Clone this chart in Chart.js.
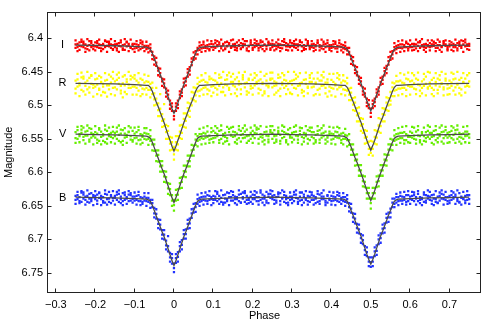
<!DOCTYPE html>
<html><head><meta charset="utf-8">
<script src="https://cdn.jsdelivr.net/npm/chart.js@4/dist/chart.umd.min.js"></script>
<style>html,body{margin:0;padding:0;background:#fff}#wrap{width:485px;height:326px}</style>
</head><body><div id="wrap"><canvas id="c" width="485" height="326"></canvas></div>
<script>
// ---- data ----
const phase = [
-0.25,-0.245,-0.24,-0.235,-0.23,-0.225,-0.22,-0.215,-0.21,-0.205,
-0.2,-0.195,-0.19,-0.185,-0.18,-0.175,-0.17,-0.165,-0.16,-0.155,
-0.15,-0.145,-0.14,-0.135,-0.13,-0.125,-0.12,-0.115,-0.11,-0.105,
-0.1,-0.095,-0.09,-0.085,-0.08,-0.075,-0.07,-0.065,-0.06,-0.055,
-0.05,-0.045,-0.04,-0.035,-0.03,-0.025,-0.02,-0.015,-0.01,-0.005,
0,0.005,0.01,0.015,0.02,0.025,0.03,0.035,0.04,0.045,
0.05,0.055,0.06,0.065,0.07,0.075,0.08,0.085,0.09,0.095,
0.1,0.105,0.11,0.115,0.12,0.125,0.13,0.135,0.14,0.145,
0.15,0.155,0.16,0.165,0.17,0.175,0.18,0.185,0.19,0.195,
0.2,0.205,0.21,0.215,0.22,0.225,0.23,0.235,0.24,0.245,
0.25,0.255,0.26,0.265,0.27,0.275,0.28,0.285,0.29,0.295,
0.3,0.305,0.31,0.315,0.32,0.325,0.33,0.335,0.34,0.345,
0.35,0.355,0.36,0.365,0.37,0.375,0.38,0.385,0.39,0.395,
0.4,0.405,0.41,0.415,0.42,0.425,0.43,0.435,0.44,0.445,
0.45,0.455,0.46,0.465,0.47,0.475,0.48,0.485,0.49,0.495,
0.5,0.505,0.51,0.515,0.52,0.525,0.53,0.535,0.54,0.545,
0.55,0.555,0.56,0.565,0.57,0.575,0.58,0.585,0.59,0.595,
0.6,0.605,0.61,0.615,0.62,0.625,0.63,0.635,0.64,0.645,
0.65,0.655,0.66,0.665,0.67,0.675,0.68,0.685,0.69,0.695,
0.7,0.705,0.71,0.715,0.72,0.725,0.73,0.735,0.74,0.745,
0.75];

const iObsA = [
6.414,6.408,6.411,6.405,6.413,6.409,6.416,6.410,6.407,6.412,
6.406,6.413,6.409,6.415,6.410,6.404,6.411,6.408,6.414,6.410,
6.409,6.415,6.407,6.412,6.410,6.417,6.406,6.411,6.413,6.408,
6.415,6.409,6.413,6.407,6.414,6.411,6.416,6.411,6.419,6.425,
6.427,6.441,6.444,6.457,6.460,6.473,6.475,6.490,6.499,6.502,
6.516,6.508,6.493,6.489,6.481,6.466,6.464,6.451,6.448,6.435,
6.432,6.419,6.418,6.411,6.415,6.409,6.414,6.410,6.416,6.408,
6.413,6.407,6.412,6.409,6.415,6.410,6.406,6.412,6.408,6.414,
6.409,6.413,6.406,6.411,6.415,6.408,6.410,6.404,6.412,6.409,
6.414,6.407,6.411,6.408,6.413,6.405,6.410,6.412,6.407,6.415,
6.408,6.411,6.406,6.413,6.409,6.415,6.410,6.407,6.412,6.406,
6.411,6.408,6.414,6.409,6.405,6.412,6.410,6.416,6.407,6.411,
6.409,6.414,6.410,6.407,6.413,6.411,6.416,6.408,6.412,6.410,
6.414,6.409,6.415,6.411,6.407,6.413,6.410,6.416,6.414,6.424,
6.431,6.434,6.447,6.450,6.462,6.464,6.479,6.482,6.496,6.499,
6.511,6.504,6.490,6.487,6.473,6.469,6.457,6.455,6.441,6.439,
6.427,6.424,6.413,6.416,6.410,6.414,6.409,6.413,6.407,6.415,
6.410,6.413,6.408,6.415,6.411,6.406,6.412,6.409,6.414,6.410,
6.407,6.412,6.409,6.414,6.410,6.405,6.413,6.408,6.411,6.416,
6.409,6.406,6.413,6.410,6.415,6.408,6.411,6.404,6.412,6.409,
6.411];
const iObsB = [
6.409,6.413,6.406,6.412,6.408,6.415,6.411,6.404,6.413,6.410,
6.412,6.407,6.414,6.410,6.408,6.413,6.405,6.412,6.409,6.416,
6.413,6.408,6.411,6.406,6.415,6.409,6.412,6.408,6.414,6.410,
6.408,6.414,6.410,6.416,6.409,6.413,6.411,6.415,6.414,6.420,
6.432,6.436,6.448,6.452,6.464,6.467,6.481,6.484,6.493,6.508,
6.509,6.502,6.499,6.484,6.476,6.472,6.459,6.457,6.443,6.440,
6.428,6.424,6.414,6.417,6.410,6.414,6.411,6.415,6.409,6.413,
6.409,6.414,6.410,6.406,6.412,6.408,6.415,6.411,6.407,6.413,
6.412,6.408,6.414,6.410,6.407,6.413,6.409,6.415,6.411,6.406,
6.410,6.413,6.408,6.414,6.406,6.411,6.409,6.416,6.410,6.408,
6.413,6.409,6.412,6.408,6.414,6.410,6.405,6.412,6.409,6.413,
6.407,6.413,6.409,6.412,6.410,6.406,6.414,6.411,6.408,6.413,
6.413,6.408,6.412,6.406,6.410,6.415,6.409,6.413,6.407,6.414,
6.410,6.413,6.408,6.415,6.412,6.409,6.415,6.411,6.418,6.420,
6.426,6.440,6.441,6.455,6.457,6.470,6.473,6.487,6.490,6.504,
6.505,6.498,6.495,6.481,6.479,6.465,6.462,6.449,6.446,6.434,
6.432,6.419,6.418,6.411,6.414,6.409,6.415,6.410,6.413,6.408,
6.413,6.408,6.412,6.409,6.406,6.414,6.410,6.413,6.408,6.412,
6.413,6.409,6.411,6.407,6.414,6.410,6.412,6.406,6.409,6.413,
6.412,6.410,6.408,6.413,6.407,6.411,6.414,6.409,6.406,6.411,
6.408];
const iObsC = [
6.403,6.419,6.417,6.402,6.405,6.420,6.401,6.418,6.404,6.416,
6.418,6.404,6.402,6.419,6.416,6.403,6.420,6.405,6.401,6.417,
6.404,6.418,6.420,6.403,6.417,6.401,6.405,6.419,6.402,6.416,
6.420,6.404,6.418,6.403,6.405,6.419,6.405,6.421,6.409,6.431,
6.439,6.429,6.455,6.445,6.471,6.461,6.487,6.478,6.505,6.497,
6.521,6.497,6.504,6.479,6.486,6.460,6.470,6.446,6.454,6.430,
6.421,6.430,6.424,6.406,6.420,6.405,6.419,6.403,6.418,6.404,
6.417,6.403,6.404,6.419,6.402,6.418,6.416,6.405,6.420,6.403,
6.402,6.417,6.418,6.403,6.416,6.401,6.404,6.418,6.419,6.403,
6.417,6.402,6.404,6.418,6.403,6.416,6.419,6.401,6.405,6.417,
6.403,6.418,6.416,6.402,6.419,6.404,6.401,6.417,6.418,6.403,
6.418,6.404,6.402,6.417,6.403,6.419,6.417,6.402,6.404,6.416,
6.404,6.419,6.417,6.403,6.418,6.402,6.405,6.420,6.403,6.417,
6.419,6.404,6.405,6.420,6.403,6.418,6.421,6.406,6.424,6.414,
6.438,6.428,6.452,6.443,6.468,6.459,6.484,6.475,6.501,6.492,
6.517,6.493,6.501,6.476,6.484,6.459,6.468,6.444,6.452,6.428,
6.420,6.430,6.407,6.422,6.404,6.420,6.403,6.419,6.405,6.418,
6.403,6.418,6.417,6.402,6.419,6.404,6.401,6.417,6.420,6.403,
6.418,6.403,6.405,6.419,6.402,6.417,6.420,6.404,6.403,6.418,
6.404,6.417,6.419,6.402,6.418,6.405,6.403,6.420,6.402,6.416,
6.417];

const rObsA = [
6.475,6.461,6.470,6.458,6.479,6.466,6.463,6.473,6.456,6.469,
6.472,6.460,6.477,6.465,6.468,6.481,6.462,6.470,6.457,6.474,
6.464,6.476,6.459,6.471,6.467,6.480,6.461,6.469,6.474,6.458,
6.472,6.463,6.478,6.460,6.475,6.466,6.474,6.465,6.477,6.483,
6.482,6.499,6.497,6.516,6.513,6.531,6.529,6.550,6.547,6.566,
6.573,6.555,6.558,6.539,6.541,6.520,6.523,6.504,6.508,6.490,
6.492,6.474,6.479,6.465,6.476,6.462,6.473,6.466,6.478,6.460,
6.471,6.463,6.476,6.459,6.467,6.480,6.462,6.470,6.474,6.457,
6.465,6.472,6.458,6.469,6.476,6.461,6.467,6.479,6.460,6.471,
6.474,6.459,6.468,6.463,6.477,6.466,6.456,6.470,6.473,6.462,
6.460,6.471,6.466,6.478,6.458,6.469,6.474,6.463,6.467,6.481,
6.469,6.462,6.475,6.457,6.470,6.466,6.479,6.461,6.472,6.465,
6.473,6.460,6.468,6.477,6.463,6.471,6.458,6.474,6.466,6.479,
6.462,6.475,6.468,6.459,6.473,6.466,6.476,6.464,6.478,6.484,
6.481,6.499,6.496,6.515,6.512,6.530,6.528,6.548,6.547,6.565,
6.571,6.554,6.557,6.538,6.539,6.520,6.524,6.505,6.507,6.489,
6.493,6.473,6.478,6.464,6.475,6.463,6.474,6.467,6.477,6.461,
6.472,6.463,6.475,6.460,6.469,6.478,6.464,6.471,6.457,6.473,
6.466,6.474,6.459,6.470,6.477,6.462,6.468,6.473,6.460,6.475,
6.463,6.471,6.478,6.460,6.468,6.474,6.459,6.466,6.472,6.470,
6.464];
const rObsB = [
6.463,6.472,6.467,6.477,6.460,6.471,6.476,6.459,6.468,6.474,
6.461,6.469,6.475,6.458,6.472,6.463,6.470,6.476,6.466,6.460,
6.473,6.462,6.468,6.478,6.457,6.470,6.465,6.474,6.461,6.472,
6.460,6.474,6.466,6.471,6.462,6.476,6.464,6.477,6.468,6.474,
6.491,6.490,6.507,6.505,6.523,6.521,6.540,6.538,6.557,6.555,
6.562,6.566,6.546,6.549,6.529,6.532,6.512,6.515,6.497,6.500,
6.481,6.485,6.468,6.478,6.463,6.474,6.465,6.476,6.461,6.472,
6.462,6.474,6.466,6.471,6.458,6.473,6.469,6.461,6.477,6.465,
6.470,6.461,6.476,6.464,6.468,6.458,6.473,6.466,6.462,6.475,
6.462,6.470,6.465,6.475,6.461,6.468,6.479,6.463,6.471,6.460,
6.473,6.464,6.470,6.459,6.475,6.466,6.462,6.471,6.476,6.464,
6.463,6.474,6.460,6.471,6.467,6.477,6.462,6.468,6.474,6.459,
6.465,6.472,6.466,6.460,6.475,6.463,6.470,6.466,6.461,6.472,
6.474,6.465,6.470,6.476,6.461,6.472,6.463,6.477,6.467,6.475,
6.492,6.489,6.508,6.504,6.524,6.519,6.541,6.537,6.556,6.554,
6.563,6.565,6.547,6.548,6.530,6.531,6.513,6.514,6.496,6.500,
6.480,6.486,6.467,6.477,6.464,6.475,6.466,6.474,6.460,6.471,
6.464,6.472,6.467,6.476,6.462,6.470,6.474,6.461,6.468,6.475,
6.471,6.462,6.477,6.465,6.460,6.472,6.467,6.476,6.463,6.469,
6.474,6.466,6.461,6.473,6.469,6.462,6.476,6.465,6.460,6.471,
6.472];
const rObsC = [
6.482,6.453,6.486,6.451,6.457,6.484,6.450,6.481,6.455,6.487,
6.452,6.483,6.456,6.485,6.480,6.452,6.487,6.454,6.483,6.450,
6.485,6.454,6.451,6.482,6.488,6.455,6.483,6.450,6.456,6.484,
6.455,6.484,6.452,6.486,6.483,6.454,6.484,6.456,6.488,6.466,
6.500,6.474,6.516,6.483,6.532,6.498,6.550,6.531,6.567,6.548,
6.581,6.546,6.567,6.530,6.550,6.512,6.533,6.496,6.517,6.480,
6.473,6.494,6.459,6.486,6.455,6.484,6.452,6.483,6.457,6.486,
6.481,6.452,6.484,6.454,6.480,6.450,6.485,6.455,6.451,6.483,
6.453,6.482,6.486,6.451,6.483,6.455,6.450,6.484,6.481,6.454,
6.484,6.452,6.455,6.482,6.450,6.485,6.482,6.453,6.486,6.451,
6.451,6.484,6.481,6.454,6.486,6.452,6.455,6.483,6.450,6.482,
6.483,6.450,6.454,6.485,6.452,6.481,6.486,6.451,6.482,6.455,
6.452,6.485,6.483,6.451,6.484,6.455,6.450,6.482,6.487,6.453,
6.485,6.453,6.487,6.452,6.455,6.483,6.455,6.485,6.459,6.492,
6.474,6.507,6.488,6.524,6.503,6.538,6.520,6.557,6.538,6.574,
6.553,6.575,6.537,6.558,6.519,6.541,6.504,6.524,6.488,6.508,
6.499,6.466,6.486,6.456,6.485,6.452,6.483,6.454,6.486,6.451,
6.484,6.452,6.455,6.483,6.451,6.486,6.482,6.453,6.485,6.450,
6.451,6.483,6.486,6.452,6.482,6.455,6.450,6.485,6.453,6.484,
6.483,6.451,6.453,6.484,6.450,6.482,6.485,6.452,6.481,6.455,
6.452];

const vObsA = [
6.549,6.537,6.546,6.541,6.552,6.539,6.545,6.534,6.548,6.543,
6.540,6.551,6.536,6.547,6.543,6.555,6.538,6.546,6.541,6.549,
6.546,6.539,6.553,6.542,6.537,6.548,6.544,6.540,6.551,6.538,
6.549,6.540,6.552,6.543,6.547,6.541,6.551,6.543,6.553,6.551,
6.568,6.567,6.584,6.583,6.599,6.598,6.615,6.616,6.634,6.634,
6.649,6.634,6.633,6.616,6.614,6.598,6.599,6.583,6.583,6.567,
6.566,6.551,6.553,6.543,6.549,6.541,6.548,6.539,6.545,6.550,
6.538,6.548,6.543,6.552,6.537,6.546,6.541,6.549,6.535,6.545,
6.547,6.540,6.551,6.536,6.544,6.549,6.539,6.546,6.553,6.541,
6.538,6.549,6.542,6.535,6.547,6.544,6.552,6.539,6.546,6.540,
6.550,6.537,6.545,6.541,6.553,6.538,6.547,6.542,6.536,6.548,
6.541,6.551,6.539,6.546,6.543,6.534,6.549,6.542,6.550,6.538,
6.547,6.540,6.552,6.543,6.537,6.548,6.541,6.551,6.545,6.539,
6.542,6.550,6.539,6.548,6.544,6.552,6.541,6.550,6.545,6.559,
6.558,6.574,6.574,6.589,6.589,6.605,6.605,6.622,6.623,6.639,
6.646,6.631,6.631,6.614,6.613,6.597,6.597,6.581,6.582,6.566,
6.566,6.551,6.553,6.543,6.550,6.541,6.549,6.540,6.552,6.545,
6.539,6.548,6.545,6.551,6.537,6.546,6.542,6.553,6.540,6.547,
6.550,6.541,6.546,6.537,6.549,6.543,6.554,6.539,6.545,6.541,
6.546,6.538,6.551,6.542,6.536,6.547,6.543,6.550,6.539,6.545,
6.548];
const vObsB = [
6.540,6.550,6.543,6.536,6.547,6.545,6.538,6.551,6.541,6.546,
6.548,6.542,6.553,6.539,6.545,6.536,6.550,6.543,6.547,6.539,
6.541,6.550,6.544,6.536,6.553,6.542,6.547,6.539,6.546,6.552,
6.542,6.548,6.537,6.551,6.544,6.550,6.542,6.550,6.546,6.558,
6.558,6.575,6.574,6.591,6.590,6.606,6.607,6.624,6.625,6.642,
6.641,6.642,6.625,6.624,6.607,6.606,6.590,6.591,6.575,6.575,
6.560,6.559,6.546,6.551,6.543,6.550,6.542,6.547,6.551,6.540,
6.549,6.541,6.546,6.538,6.550,6.543,6.547,6.553,6.540,6.544,
6.539,6.546,6.542,6.549,6.538,6.543,6.548,6.536,6.545,6.550,
6.546,6.541,6.536,6.550,6.543,6.548,6.540,6.545,6.551,6.537,
6.541,6.546,6.551,6.538,6.544,6.549,6.540,6.552,6.543,6.546,
6.548,6.540,6.545,6.551,6.538,6.547,6.541,6.546,6.537,6.552,
6.540,6.549,6.544,6.538,6.551,6.542,6.546,6.539,6.548,6.543,
6.551,6.543,6.547,6.540,6.549,6.542,6.550,6.544,6.552,6.552,
6.566,6.566,6.582,6.581,6.597,6.597,6.613,6.614,6.631,6.631,
6.638,6.639,6.623,6.622,6.605,6.605,6.589,6.589,6.574,6.574,
6.558,6.559,6.545,6.551,6.542,6.549,6.541,6.552,6.543,6.547,
6.547,6.541,6.550,6.539,6.545,6.552,6.540,6.546,6.549,6.538,
6.541,6.547,6.538,6.552,6.543,6.546,6.540,6.549,6.537,6.548,
6.540,6.549,6.544,6.537,6.550,6.541,6.548,6.542,6.546,6.539,
6.543];
const vObsC = [
6.556,6.532,6.555,6.531,6.533,6.557,6.530,6.554,6.535,6.558,
6.531,6.556,6.534,6.558,6.553,6.530,6.557,6.533,6.555,6.532,
6.557,6.533,6.530,6.555,6.559,6.534,6.556,6.531,6.533,6.554,
6.533,6.557,6.532,6.558,6.556,6.534,6.534,6.559,6.537,6.567,
6.551,6.583,6.567,6.599,6.583,6.614,6.599,6.632,6.617,6.650,
6.657,6.626,6.641,6.608,6.623,6.590,6.607,6.575,6.591,6.559,
6.575,6.543,6.561,6.535,6.558,6.533,6.557,6.531,6.556,6.534,
6.555,6.531,6.534,6.556,6.530,6.557,6.554,6.532,6.558,6.533,
6.532,6.555,6.557,6.531,6.554,6.534,6.530,6.556,6.553,6.533,
6.556,6.530,6.533,6.557,6.531,6.554,6.558,6.532,6.555,6.531,
6.531,6.556,6.554,6.533,6.557,6.530,6.532,6.555,6.558,6.534,
6.555,6.532,6.530,6.556,6.533,6.558,6.554,6.531,6.557,6.533,
6.533,6.557,6.555,6.531,6.556,6.534,6.530,6.557,6.554,6.532,
6.557,6.533,6.558,6.532,6.534,6.556,6.558,6.535,6.561,6.543,
6.574,6.558,6.590,6.573,6.605,6.589,6.621,6.606,6.639,6.623,
6.654,6.623,6.639,6.606,6.621,6.589,6.605,6.573,6.590,6.558,
6.550,6.567,6.537,6.559,6.534,6.556,6.532,6.557,6.531,6.555,
6.556,6.532,6.533,6.557,6.531,6.555,6.558,6.533,6.554,6.530,
6.532,6.556,6.558,6.531,6.555,6.533,6.530,6.557,6.532,6.556,
6.555,6.531,6.533,6.556,6.530,6.554,6.557,6.532,6.555,6.531,
6.556];

const bObsA = [
6.641,6.634,6.643,6.630,6.639,6.636,6.644,6.632,6.640,6.637,
6.635,6.642,6.631,6.640,6.637,6.645,6.633,6.639,6.636,6.642,
6.638,6.633,6.644,6.636,6.631,6.641,6.637,6.643,6.634,6.640,
6.642,6.635,6.643,6.637,6.644,6.636,6.643,6.638,6.646,6.646,
6.653,6.669,6.670,6.685,6.686,6.700,6.702,6.718,6.720,6.736,
6.743,6.728,6.726,6.710,6.708,6.692,6.692,6.677,6.676,6.661,
6.660,6.646,6.647,6.638,6.643,6.636,6.642,6.634,6.641,6.637,
6.635,6.641,6.632,6.640,6.644,6.634,6.639,6.643,6.631,6.637,
6.642,6.636,6.640,6.633,6.645,6.637,6.631,6.641,6.638,6.644,
6.633,6.640,6.637,6.643,6.630,6.639,6.635,6.642,6.636,6.632,
6.640,6.634,6.642,6.636,6.631,6.639,6.644,6.635,6.638,6.641,
6.636,6.643,6.633,6.639,6.642,6.630,6.637,6.641,6.635,6.644,
6.641,6.635,6.639,6.644,6.633,6.640,6.636,6.642,6.634,6.639,
6.643,6.636,6.641,6.634,6.644,6.638,6.637,6.644,6.640,6.652,
6.654,6.667,6.669,6.683,6.685,6.698,6.701,6.716,6.719,6.733,
6.741,6.727,6.725,6.709,6.707,6.691,6.691,6.676,6.675,6.660,
6.660,6.645,6.647,6.637,6.643,6.635,6.642,6.637,6.644,6.634,
6.640,6.635,6.643,6.637,6.632,6.641,6.638,6.644,6.634,6.639,
6.636,6.642,6.633,6.640,6.645,6.635,6.639,6.633,6.641,6.637,
6.642,6.634,6.639,6.636,6.643,6.631,6.638,6.640,6.635,6.641,
6.634];
const bObsB = [
6.635,6.640,6.637,6.644,6.633,6.641,6.635,6.639,6.643,6.634,
6.640,6.633,6.638,6.635,6.643,6.632,6.640,6.644,6.634,6.638,
6.635,6.641,6.632,6.640,6.643,6.634,6.639,6.633,6.642,6.636,
6.636,6.641,6.634,6.643,6.638,6.642,6.638,6.644,6.641,6.652,
6.661,6.662,6.677,6.678,6.693,6.693,6.709,6.710,6.727,6.728,
6.736,6.735,6.719,6.718,6.701,6.699,6.685,6.684,6.669,6.668,
6.654,6.652,6.640,6.644,6.637,6.641,6.636,6.643,6.635,6.640,
6.641,6.636,6.643,6.635,6.638,6.645,6.633,6.640,6.637,6.642,
6.634,6.640,6.637,6.643,6.632,6.639,6.644,6.635,6.641,6.636,
6.640,6.634,6.643,6.637,6.641,6.633,6.639,6.645,6.632,6.638,
6.635,6.641,6.637,6.632,6.643,6.638,6.634,6.640,6.645,6.636,
6.640,6.633,6.638,6.644,6.636,6.641,6.633,6.639,6.643,6.636,
6.634,6.641,6.637,6.632,6.643,6.636,6.640,6.645,6.635,6.641,
6.635,6.642,6.637,6.643,6.635,6.641,6.643,6.637,6.645,6.646,
6.660,6.661,6.676,6.677,6.691,6.692,6.707,6.710,6.725,6.727,
6.734,6.733,6.718,6.717,6.700,6.698,6.684,6.683,6.668,6.667,
6.654,6.652,6.639,6.645,6.637,6.642,6.636,6.641,6.634,6.643,
6.636,6.641,6.634,6.639,6.643,6.637,6.640,6.633,6.642,6.635,
6.641,6.634,6.639,6.644,6.636,6.642,6.632,6.640,6.637,6.643,
6.635,6.641,6.637,6.633,6.640,6.644,6.636,6.639,6.642,6.634,
6.640];
const bObsC = [
6.647,6.629,6.646,6.628,6.630,6.648,6.627,6.645,6.631,6.649,
6.628,6.647,6.630,6.649,6.645,6.627,6.648,6.629,6.646,6.628,
6.648,6.629,6.627,6.646,6.649,6.630,6.647,6.628,6.631,6.645,
6.630,6.648,6.629,6.649,6.647,6.631,6.650,6.631,6.653,6.641,
6.667,6.655,6.683,6.671,6.699,6.686,6.715,6.695,6.733,6.722,
6.749,6.722,6.733,6.704,6.715,6.686,6.699,6.671,6.683,6.655,
6.647,6.659,6.633,6.650,6.631,6.648,6.630,6.647,6.628,6.649,
6.646,6.628,6.629,6.647,6.627,6.648,6.645,6.630,6.649,6.628,
6.629,6.646,6.648,6.627,6.645,6.630,6.628,6.647,6.646,6.629,
6.647,6.628,6.630,6.648,6.627,6.645,6.649,6.629,6.646,6.627,
6.628,6.647,6.645,6.630,6.648,6.627,6.629,6.646,6.649,6.630,
6.646,6.629,6.627,6.647,6.630,6.649,6.645,6.628,6.648,6.629,
6.630,6.648,6.646,6.628,6.647,6.631,6.627,6.649,6.645,6.629,
6.648,6.630,6.649,6.629,6.631,6.647,6.631,6.650,6.634,6.658,
6.647,6.674,6.662,6.690,6.678,6.705,6.694,6.723,6.712,6.740,
6.727,6.740,6.712,6.723,6.694,6.705,6.678,6.690,6.662,6.674,
6.667,6.639,6.652,6.632,6.649,6.630,6.647,6.629,6.648,6.628,
6.647,6.629,6.630,6.648,6.628,6.646,6.649,6.630,6.645,6.627,
6.629,6.647,6.649,6.628,6.646,6.630,6.627,6.648,6.629,6.647,
6.646,6.628,6.630,6.647,6.627,6.645,6.648,6.629,6.646,6.628,
6.647];

// fitted model curves
const fitPhase = [-0.25,-0.2,-0.15,-0.1,
-0.07,-0.065,-0.06,-0.055,-0.05,-0.045,-0.04,-0.035,-0.03,-0.025,-0.02,-0.015,-0.01,-0.005,0,0.005,0.01,0.015,0.02,0.025,0.03,0.035,0.04,0.045,0.05,0.055,0.06,0.065,0.07,
0.1,0.15,0.2,0.25,0.3,0.35,0.4,
0.43,0.435,0.44,0.445,0.45,0.455,0.46,0.465,0.47,0.475,0.48,0.485,0.49,0.495,0.5,0.505,0.51,0.515,0.52,0.525,0.53,0.535,0.54,0.545,0.55,0.555,0.56,0.565,0.57,
0.6,0.65,0.7,0.75];
const iFit = [6.410,6.4105,6.411,6.412,
6.413,6.414,6.416,6.422,6.430,6.438,6.446,6.454,6.462,6.469,6.478,6.487,6.496,6.505,6.512,6.505,6.496,6.487,6.478,6.469,6.462,6.454,6.446,6.438,6.430,6.422,6.416,6.414,6.413,
6.412,6.411,6.4105,6.410,6.4105,6.411,6.412,
6.413,6.414,6.416,6.422,6.429,6.437,6.444,6.452,6.460,6.467,6.476,6.484,6.493,6.501,6.508,6.501,6.493,6.484,6.476,6.467,6.460,6.452,6.444,6.437,6.429,6.422,6.416,6.414,6.413,
6.412,6.411,6.4105,6.410];
const rFit = [6.467,6.4675,6.468,6.469,
6.470,6.470,6.473,6.479,6.487,6.495,6.502,6.510,6.518,6.526,6.535,6.544,6.552,6.561,6.568,6.561,6.552,6.544,6.535,6.526,6.518,6.510,6.502,6.495,6.487,6.479,6.473,6.470,6.470,
6.469,6.468,6.4675,6.467,6.4675,6.468,6.469,
6.470,6.470,6.473,6.479,6.487,6.494,6.502,6.510,6.518,6.525,6.534,6.543,6.552,6.560,6.567,6.560,6.552,6.543,6.534,6.525,6.518,6.510,6.502,6.494,6.487,6.479,6.473,6.470,6.470,
6.469,6.468,6.4675,6.467];
const vFit = [6.543,6.5435,6.544,6.545,
6.546,6.547,6.549,6.555,6.563,6.571,6.579,6.587,6.595,6.602,6.611,6.620,6.629,6.638,6.645,6.638,6.629,6.620,6.611,6.602,6.595,6.587,6.579,6.571,6.563,6.555,6.549,6.547,6.546,
6.545,6.544,6.5435,6.543,6.5435,6.544,6.545,
6.546,6.547,6.549,6.555,6.562,6.570,6.578,6.585,6.593,6.601,6.609,6.618,6.627,6.635,6.642,6.635,6.627,6.618,6.609,6.601,6.593,6.585,6.578,6.570,6.562,6.555,6.549,6.547,6.546,
6.545,6.544,6.5435,6.543];
const bFit = [6.637,6.6375,6.638,6.639,
6.640,6.641,6.643,6.649,6.657,6.665,6.673,6.681,6.689,6.696,6.705,6.714,6.723,6.732,6.739,6.732,6.723,6.714,6.705,6.696,6.689,6.681,6.673,6.665,6.657,6.649,6.643,6.641,6.640,
6.639,6.638,6.6375,6.637,6.6375,6.638,6.639,
6.640,6.641,6.643,6.649,6.657,6.664,6.672,6.680,6.688,6.695,6.704,6.713,6.722,6.730,6.737,6.730,6.722,6.713,6.704,6.695,6.688,6.680,6.672,6.664,6.657,6.649,6.643,6.641,6.640,
6.639,6.638,6.6375,6.637];

const xTicks = [-0.3,-0.2,-0.1,0,0.1,0.2,0.3,0.4,0.5,0.6,0.7];
const xTickLabels = ['\u22120.3','\u22120.2','\u22120.1','0','0.1','0.2','0.3','0.4','0.5','0.6','0.7'];
const yTicks = [6.4,6.45,6.5,6.55,6.6,6.65,6.7,6.75];
const yTickLabels = ['6.4','6.45','6.5','6.55','6.6','6.65','6.7','6.75'];
const bandNames = ['I','R','V','B'];
const bandLabelMag = [6.41,6.467,6.543,6.638];
const bandLabelPhase = -0.283;

// ---- chart ----
const FONT = 'Liberation Sans, Arial, Helvetica, sans-serif';
const pts = (arr) => phase.map((p, i) => ({x: p, y: arr[i]}));
const fitPts = (arr) => fitPhase.map((p, i) => ({x: p, y: arr[i]}));
const lineColor = '#4a4a4a';
function fitSet(arr){return {type:'line',data:fitPts(arr),borderColor:lineColor,borderWidth:1.3,pointRadius:0,tension:0,fill:false};}
function obsSet(arr,col){return {type:'scatter',data:pts(arr),backgroundColor:col,pointStyle:'rect',pointRadius:1.6,pointBorderWidth:0,pointHoverRadius:0};}
const colI='#ff0000', colR='#ffff00', colV='#66ee00', colB='#2233ff';

const frame = {
  id:'frame',
  afterDatasetsDraw(chart){
    const {ctx, chartArea:a, scales:{x, y}} = chart;
    ctx.save();
    ctx.strokeStyle = '#222'; ctx.lineWidth = 1;
    const L = Math.round(a.left)-0.5, R = Math.round(a.right)-0.5, T = Math.round(a.top)+0.5, B = Math.round(a.bottom)-0.5;
    ctx.strokeRect(L, T, R-L, B-T);
    ctx.beginPath();
    xTicks.forEach(v=>{const px=Math.round(x.getPixelForValue(v))-0.5; ctx.moveTo(px,B); ctx.lineTo(px,B-4); ctx.moveTo(px,T); ctx.lineTo(px,T+4);});
    yTicks.forEach(v=>{const py=Math.round(y.getPixelForValue(v))+0.5; ctx.moveTo(L,py); ctx.lineTo(L+4,py); ctx.moveTo(R,py); ctx.lineTo(R-4,py);});
    ctx.stroke();
    ctx.fillStyle='#000'; ctx.font='11px '+FONT; ctx.textAlign='center'; ctx.textBaseline='middle';
    bandNames.forEach((n,i)=>ctx.fillText(n, x.getPixelForValue(bandLabelPhase), y.getPixelForValue(bandLabelMag[i])));
    ctx.restore();
  }
};

new Chart(document.getElementById('c'), {
  data:{datasets:[
    fitSet(iFit), fitSet(rFit), fitSet(vFit), fitSet(bFit),
    obsSet(iObsA,colI), obsSet(iObsB,colI), obsSet(iObsC,colI),
    obsSet(vObsA,colV), obsSet(vObsB,colV), obsSet(vObsC,colV),
    obsSet(rObsA,colR), obsSet(rObsB,colR), obsSet(rObsC,colR),
    obsSet(bObsA,colB), obsSet(bObsB,colB), obsSet(bObsC,colB)
  ]},
  options:{
    responsive:false, animation:false, devicePixelRatio:1,
    layout:{padding:{top:3,right:4,left:0,bottom:0}},
    plugins:{legend:{display:false}, tooltip:{enabled:false}},
    events:[],
    scales:{
      x:{type:'linear', min:-0.32, max:0.78,
        afterBuildTicks:(s)=>{s.ticks = xTicks.map(v=>({value:v}));},
        afterFit:(s)=>{s.height = 33;},
        ticks:{autoSkip:false, maxRotation:0, padding:5, color:'#000', font:{family:FONT,size:11},
          callback:(v)=>{const k=xTicks.findIndex(t=>Math.abs(t-v)<1e-9); return k<0?'':xTickLabels[k];}},
        grid:{display:false, drawTicks:false}, border:{display:false},
        title:{display:true, text:'Phase', color:'#000', font:{family:FONT,size:11}, padding:{top:0,bottom:3}}
      },
      y:{type:'linear', reverse:true, min:6.36, max:6.78,
        afterBuildTicks:(s)=>{s.ticks = yTicks.map(v=>({value:v}));},
        afterFit:(s)=>{s.width = 48;},
        ticks:{autoSkip:false, padding:5, color:'#000', font:{family:FONT,size:11},
          callback:(v)=>{const k=yTicks.findIndex(t=>Math.abs(t-v)<1e-9); return k<0?'':yTickLabels[k];}},
        grid:{display:false, drawTicks:false}, border:{display:false},
        title:{display:true, text:'Magnitude', color:'#000', font:{family:FONT,size:11}, padding:{top:2,bottom:0}}
      }
    }
  },
  plugins:[frame]
});
</script>
</body></html>
